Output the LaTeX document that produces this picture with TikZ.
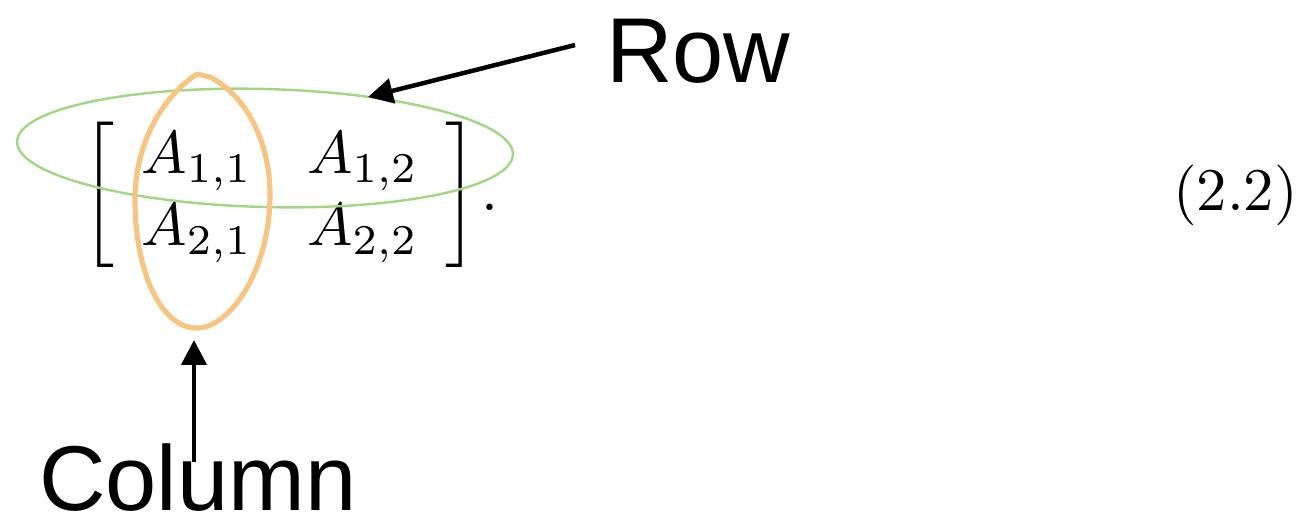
\documentclass[tikz,border=0pt]{standalone}
\usepackage{amsmath}
\usepackage{fontspec}
\newfontfamily\labelfont{Liberation Sans}
\usetikzlibrary{arrows.meta}
\definecolor{rowgreen}{RGB}{162,214,130}
\definecolor{colorange}{RGB}{248,196,130}
\tikzset{
  lbl/.style={inner sep=0pt, font=\labelfont\fontsize{15.2}{18}\selectfont},
  pointer/.style={line width=0.74pt, -{Triangle[length=4.1pt,width=4.1pt]}},
}
\begin{document}
\begin{tikzpicture}[x=0.165pt, y=-0.165pt]
\useasboundingbox (0,0) rectangle (1307,516);
% matrix
\node[inner sep=0pt, anchor=base west] (mat) at (81,210)
  {\setlength\arraycolsep{4.5pt}$\left[\begin{array}{cc} A_{1,1} & A_{1,2}\\ A_{2,1} & A_{2,2}\end{array}\right]$};
\node[inner sep=0pt, anchor=base] (dot) at (490,210) {.};
\node[inner sep=0pt, anchor=base east] (eqno) at (1299,210) {(2.2)};
% row ellipse
\draw[rowgreen, line width=0.4pt, rotate around={-1.5:(265,148)}] (265,148) ellipse [x radius=248, y radius=59];
% column loop
\draw[colorange, line width=0.85pt, line join=round]
  (210,77) .. controls (245,95) and (270,140) .. (270,195)
  .. controls (270,270) and (230,328) .. (197,328)
  .. controls (160,328) and (135,270) .. (135,200)
  .. controls (135,140) and (165,95) .. (197,74) -- cycle;
% labels
\node[lbl, anchor=base west] (row) at (605,82) {Row};
\node[lbl, anchor=base west] (col) at (38,510) {Column};
\coordinate (rowtail) at (575,45);
\coordinate (rowtip) at (368,97);
\coordinate (coltail) at (194,462);
\coordinate (coltip) at (194,340);
\draw[pointer] (rowtail) -- (rowtip);
\draw[pointer] (coltail) -- (coltip);
\end{tikzpicture}
\end{document}
